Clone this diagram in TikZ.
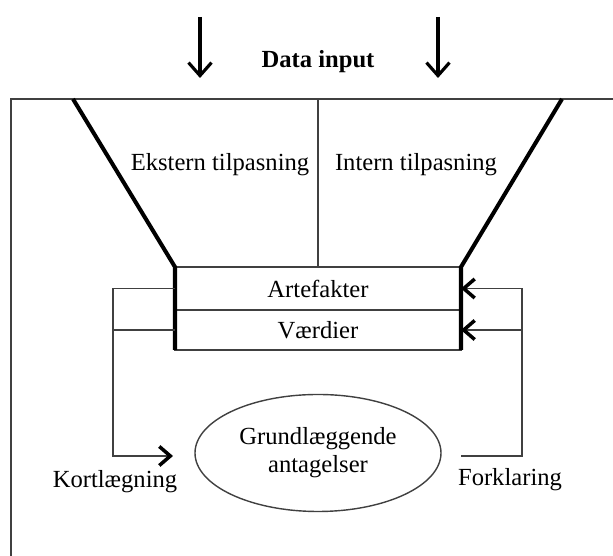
\documentclass[tikz,border=0pt]{standalone}
\usepackage{fontspec}
\setmainfont{Liberation Serif}
\usetikzlibrary{arrows.meta,positioning,shapes.geometric}

\begin{document}
\begin{tikzpicture}[font=\fontsize{14}{16}\selectfont,
  tynd/.style={draw=black!75,line width=0.8pt},
  tyk/.style={draw=black,line width=2.3pt,line join=miter},
  ind/.style={-{Straight Barb[length=2.6mm,width=4.6mm,line width=1.8pt]},line width=1.8pt},
  pil/.style={-{Straight Barb[length=2.2mm,width=3.8mm,line width=2pt,color=black]}},
  lipil/.style={{Straight Barb[length=2.2mm,width=3.8mm,line width=2pt,color=black]}-}]
\tikzstyle{lag}=[tynd,minimum width=5.72cm,inner sep=0pt,outer sep=0pt]
\useasboundingbox (0,0) rectangle (12.26,11.12);

% Data input foroven
\node[font=\fontsize{14}{16}\selectfont\bfseries] (input) at (6.36,9.88) {Data input};
\coordinate (top1) at (4.0,10.78);
\coordinate (bund1) at (4.0,9.56);
\coordinate (top2) at (8.76,10.78);
\coordinate (bund2) at (8.76,9.56);
\draw[ind] (top1) -- (bund1);
\draw[ind] (top2) -- (bund2);

% Ramme
\draw[tynd] (12.26,9.14) -- (0.22,9.14) -- (0.22,0);

% Lagene
\node[lag,minimum height=0.86cm] (art) at (6.36,5.35) {Artefakter};
\node[lag,minimum height=0.8cm,below=0pt of art] (vaer) {Værdier};

% Tragten
\draw[tyk] (1.46,9.14) -- (art.north west) -- (vaer.south west);
\draw[tyk] (11.24,9.14) -- (art.north east) -- (vaer.south east);
\draw[tynd] (6.36,9.14) -- (art.north);
\node (ekstern) at (4.4,7.82) {Ekstern tilpasning};
\node (intern) at (8.32,7.82) {Intern tilpasning};

% Grundlæggende antagelser
\node[ellipse,tynd,minimum width=4.92cm,minimum height=2.34cm,inner sep=0pt,align=center] (antag) at (6.36,2.06) {Grundlæggende\\antagelser};

% Kortlægning og forklaring
\coordinate (kort) at (3.46,2.0);
\coordinate (forkl) at (9.22,2.0);
\draw[tynd,pil] (art.west) -- ++(-1.24,0) |- (kort);
\draw[tynd] (vaer.west) -- ++(-1.24,0);
\draw[tynd,lipil] (art.east) -- ++(1.22,0) |- (forkl);
\draw[tynd,lipil] (vaer.east) -- ++(1.22,0);
\node (kortl) at (2.3,1.48) {Kortlægning};
\node (forklaring) at (10.2,1.52) {Forklaring};
\end{tikzpicture}
\end{document}
